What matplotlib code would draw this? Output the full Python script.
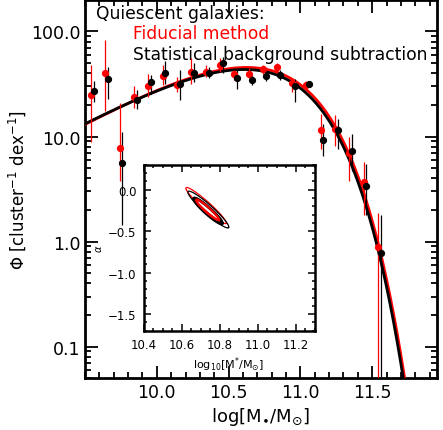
import numpy as np
import matplotlib
matplotlib.use("Agg")
import matplotlib.pyplot as plt
from matplotlib.ticker import FixedLocator, MultipleLocator, LogLocator, NullFormatter

# binned mass function, statistical background subtraction (black)
mass_bg = [9.56, 9.66, 9.76, 9.86, 9.96, 10.06, 10.16, 10.26, 10.36, 10.46, 10.56,
           10.66, 10.76, 10.86, 10.96, 11.06, 11.16, 11.26, 11.36, 11.46, 11.56]
phi_bg = [27.2, 35.6, 5.55, 22.2, 32.9, 40.7, 31.9, 40.5, 40.5, 50.5, 36.2,
          34.4, 37.9, 38.4, 30.1, 31.5, 9.33, 11.6, 7.33, 3.38, 0.78]
phi_bg_lo = [21.3, 23.0, 1.45, 18.4, 25.6, 31.9, 22.4, 33.1, 36.2, 40.5, 28.6,
             30.8, 33.6, 34.4, 21.3, 29.3, 6.56, 7.6, 4.7, 1.81, 0.001]
phi_bg_hi = [33.6, 46.0, 11.0, 27.5, 38.4, 52.2, 42.8, 49.6, 46.1, 57.5, 42.8,
             38.4, 41.3, 42.8, 35.6, 33.6, 13.2, 14.8, 10.6, 5.45, 1.81]

# fiducial method (red)
mass_fid = [9.54, 9.64, 9.74, 9.84, 9.94, 10.04, 10.14, 10.24, 10.34, 10.44, 10.54,
            10.64, 10.74, 10.84, 10.94, 11.04, 11.14, 11.24, 11.34, 11.44, 11.54]
phi_fid = [25.0, 40.7, 7.7, 23.6, 30.3, 37.5, 31.2, 41.0, 41.3, 47.9, 39.8,
           39.8, 43.5, 45.5, 32.4, 31.2, 11.6, 11.8, 7.0, 3.7, 0.887]
phi_fid_lo = [8.8, 17.5, 3.8, 18.7, 23.8, 30.8, 26.6, 31.9, 37.0, 41.3, 34.4,
              36.2, 39.8, 41.3, 26.6, 29.0, 7.6, 8.2, 3.8, 1.81, 0.001]
phi_fid_hi = [48.5, 82.6, 21.0, 30.3, 39.8, 47.9, 37.0, 55.4, 47.9, 55.4, 42.8,
              44.5, 47.9, 49.6, 36.2, 33.5, 16.5, 15.9, 9.8, 5.75, 1.88]

# Schechter fits: phi_star, log M*, alpha
fit_bg = (49.3, 10.745, -0.27)
fit_fid = (51.9, 10.75, -0.25)

# inset confidence contours: centre (logM*, alpha), semi-axis vectors A and B
cont_names = ["fid_outer", "bg_outer", "bg_inner", "fid_inner"]
cont_center = [(10.729, -0.192), (10.741, -0.240), (10.739, -0.256), (10.737, -0.244)]
cont_a = [(0.1054, -0.215), (0.1066, -0.2175), (0.0741, -0.1515), (0.0597, -0.122)]
cont_b = [(-0.0138, -0.036), (-0.0156, -0.0405), (-0.011, -0.0288), (-0.0087, -0.0225)]


def schechter(logm, pars):
    phistar, mstar, alpha = pars
    u = 10 ** (logm - mstar)
    return np.log(10) * phistar * u ** (alpha + 1) * np.exp(-u)


fig = plt.figure(figsize=(4.43, 4.31), dpi=100)
ax = fig.add_axes([0.192, 0.12, 0.794, 0.878])

xx = np.linspace(9.5, 11.95, 400)
ax.plot(xx, schechter(xx, fit_fid), color="red", lw=2.0, zorder=3)
ax.plot(xx, schechter(xx, fit_bg), color="black", lw=2.0, zorder=4)

for m, p, lo, hi, c in [(mass_fid, phi_fid, phi_fid_lo, phi_fid_hi, "red"),
                        (mass_bg, phi_bg, phi_bg_lo, phi_bg_hi, "black")]:
    p = np.array(p)
    yerr = [p - np.array(lo), np.array(hi) - p]
    ax.errorbar(m, p, yerr=yerr, fmt="o", color=c, ms=4.2, elinewidth=0.9,
                capsize=0, zorder=5)

ax.set_yscale("log")
ax.set_xlim(9.5, 11.95)
ax.set_ylim(0.05, 200)
ax.xaxis.set_major_locator(FixedLocator([10.0, 10.5, 11.0, 11.5]))
ax.xaxis.set_minor_locator(MultipleLocator(0.1))
ax.set_xticklabels(["10.0", "10.5", "11.0", "11.5"])
ax.yaxis.set_major_locator(FixedLocator([0.1, 1, 10, 100]))
ax.set_yticklabels(["0.1", "1.0", "10.0", "100.0"])
ax.yaxis.set_minor_locator(LogLocator(base=10, subs=np.arange(2, 10), numticks=20))
ax.yaxis.set_minor_formatter(NullFormatter())
ax.tick_params(which="both", direction="in", top=True, right=True, width=1.3,
               labelsize=12.5)
ax.tick_params(which="major", length=9)
ax.tick_params(which="minor", length=4.5)
for s in ax.spines.values():
    s.set_linewidth(2)

ax.set_xlabel(r"log[M$_{\bullet}$/M$_{\odot}$]", fontsize=13, labelpad=3)
ax.set_ylabel(r"$\Phi$ [cluster$^{-1}$ dex$^{-1}$]", fontsize=12, labelpad=2)

ax.text(0.03, 0.99, "Quiescent galaxies:", transform=ax.transAxes, fontsize=12.3,
        va="top", ha="left")
ax.text(0.137, 0.935, "Fiducial method", transform=ax.transAxes, fontsize=12.3,
        va="top", ha="left", color="red")
ax.text(0.137, 0.88, "Statistical background subtraction", transform=ax.transAxes,
        fontsize=12.3, va="top", ha="left")

# inset
ins = fig.add_axes([0.324, 0.2304, 0.386, 0.3851])
t = np.linspace(0, 2 * np.pi, 300)
styles = {"fid_outer": ("red", 0.9), "bg_outer": ("black", 0.9),
          "bg_inner": ("black", 2.2), "fid_inner": ("red", 1.6)}
for name, c0, a, b in zip(cont_names, cont_center, cont_a, cont_b):
    col, lw = styles[name]
    ins.plot(c0[0] + a[0] * np.cos(t) + b[0] * np.sin(t),
             c0[1] + a[1] * np.cos(t) + b[1] * np.sin(t), color=col, lw=lw)
ins.set_xlim(10.4, 11.3)
ins.set_ylim(-1.7, 0.3)
ins.xaxis.set_major_locator(FixedLocator([10.4, 10.6, 10.8, 11.0, 11.2]))
ins.set_xticklabels(["10.4", "10.6", "10.8", "11.0", "11.2"])
ins.xaxis.set_minor_locator(MultipleLocator(0.05))
ins.yaxis.set_major_locator(FixedLocator([0.0, -0.5, -1.0, -1.5]))
ins.set_yticklabels(["0.0", "\u22120.5", "\u22121.0", "\u22121.5"])
ins.yaxis.set_minor_locator(MultipleLocator(0.1))
ins.tick_params(which="both", direction="in", top=True, right=True, width=1.1,
                labelsize=8.5, pad=5)
ins.tick_params(which="major", length=5)
ins.tick_params(which="minor", length=2.5)
for s in ins.spines.values():
    s.set_linewidth(1.8)
ins.set_xlabel(r"log$_{10}$[M$^{*}$/M$_{\odot}$]", fontsize=8, labelpad=3)
ins.set_ylabel(r"$\alpha$", fontsize=7, labelpad=3)

fig.savefig("out.png", dpi=100)
